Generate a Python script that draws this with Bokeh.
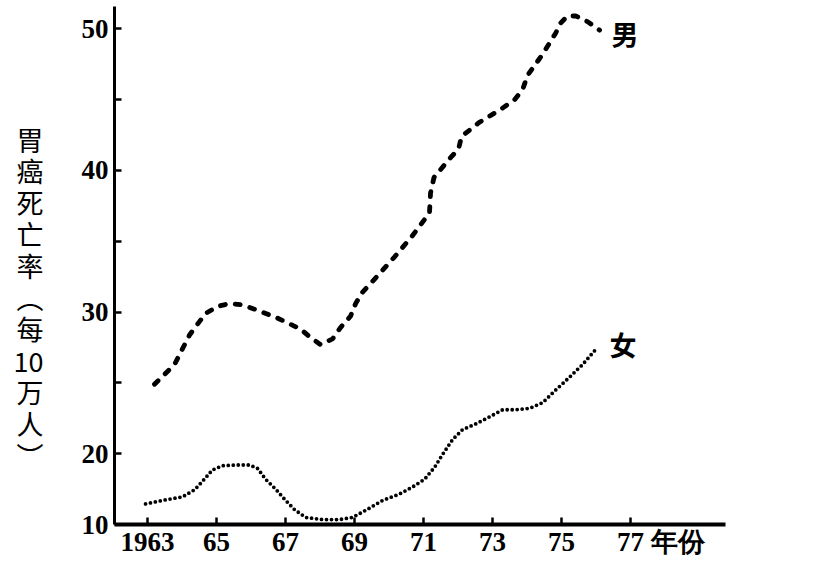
from bokeh.plotting import figure
from bokeh.models import Range1d, FixedTicker, Label
from bokeh.embed import file_html
from bokeh.resources import INLINE

# ---- data ----
male_years = [1963.2, 1963.78, 1964.22, 1964.68, 1965.03, 1965.38, 1965.75, 1966.1, 1966.74,
              1967.43, 1967.72, 1968.01, 1968.36, 1968.59, 1968.88, 1969.03, 1969.23, 1969.72,
              1970.16, 1970.68, 1971.17, 1971.2, 1971.3, 1971.78, 1972.01, 1972.1, 1972.62,
              1973.23, 1973.64, 1973.87, 1974.01, 1974.45, 1974.83, 1974.97, 1975.17, 1975.41,
              1975.75, 1976.1]
male_rate = [24.9, 26.3, 28.4, 29.9, 30.4, 30.6, 30.5, 30.2, 29.6,
             28.8, 28.2, 27.7, 28.1, 28.9, 29.7, 30.6, 31.4, 32.7,
             33.9, 35.4, 37.0, 38.4, 39.5, 40.9, 41.5, 42.4, 43.4,
             44.3, 45.0, 45.7, 46.7, 48.2, 49.7, 50.4, 50.9, 50.9,
             50.5, 49.9]

female_years = [1962.94, 1963.43, 1964.01, 1964.36, 1964.59, 1964.88, 1965.17, 1965.55, 1965.96,
                1966.19, 1966.42, 1966.71, 1967.0, 1967.26, 1967.58, 1968.07, 1968.57, 1968.94,
                1969.32, 1969.81, 1970.3, 1970.68, 1971.03, 1971.32, 1971.55, 1971.84, 1972.13,
                1972.51, 1972.91, 1973.29, 1973.67, 1974.07, 1974.45, 1974.83, 1975.23, 1975.61,
                1976.04]
female_rate = [12.9, 13.4, 13.9, 14.9, 16.1, 17.7, 18.3, 18.4, 18.4,
               17.9, 16.4, 15.0, 13.4, 12.1, 11.0, 10.7, 10.7, 11.0,
               12.0, 13.4, 14.3, 15.3, 16.4, 18.1, 19.9, 21.0, 21.7,
               22.1, 22.6, 23.1, 23.1, 23.2, 23.6, 24.5, 25.4, 26.3,
               27.5]

x_ticks = [1963, 1965, 1967, 1969, 1971, 1973, 1975, 1977]
x_tick_labels = ["1963", "65", "67", "69", "71", "73", "75", "77"]
x_unit = "年份"
y_ticks = [10, 20, 25, 30, 35, 40, 45, 50]
y_tick_labels = ["10", "20", "", "30", "", "40", "", "50"]

y_title = ["胃", "癌", "死", "亡", "率", "︵", "每", "10", "万", "人", "︶"]
male_name = "男"
female_name = "女"


def squash(v):
    """The printed axis is compressed to half scale below 20."""
    return v if v >= 20 else 20 - (20 - v) * 0.5


SERIF = "Liberation Serif"
CJK = "Noto Sans CJK SC"
PAD = "\u3000"  # ideographic space, keeps "77" centred on its tick while "年份" follows it

p = figure(width=818, height=559, output_backend="svg", toolbar_location=None,
           x_range=Range1d(1962.04, 1979.75), y_range=Range1d(squash(10), 51.57),
           min_border_left=114, min_border_right=93, min_border_top=6, min_border_bottom=0)
p.outline_line_color = None
p.xgrid.visible = False
p.ygrid.visible = False
p.background_fill_color = "white"
p.border_fill_color = "white"

p.line(male_years, [squash(v) for v in male_rate], line_color="black",
       line_width=4.8, line_dash="5 10", line_cap="round")
p.line(female_years, [squash(v) for v in female_rate], line_color="black",
       line_width=3.8, line_dash="0 5", line_cap="round")

# axes
labels = list(x_tick_labels)
labels[-1] = PAD + " " + PAD + labels[-1] + " " + x_unit
xa = p.xaxis[0]
xa.ticker = FixedTicker(ticks=x_ticks)
xa.major_label_overrides = {t: l for t, l in zip(x_ticks, labels)}
xa.minor_tick_line_color = None
xa.major_tick_in = 7
xa.major_tick_out = 0
xa.major_tick_line_width = 2.5
xa.major_tick_line_color = "black"
xa.axis_line_width = 4
xa.axis_line_color = "black"
xa.major_label_text_font = SERIF
xa.major_label_text_font_style = "bold"
xa.major_label_text_font_size = "27px"
xa.major_label_text_color = "black"
xa.major_label_standoff = 2
xa.axis_label_standoff = 0

ya = p.yaxis[0]
ya.ticker = FixedTicker(ticks=[squash(t) for t in y_ticks])
ya.major_label_overrides = {squash(t): l for t, l in zip(y_ticks, y_tick_labels)}
ya.minor_tick_line_color = None
ya.major_tick_in = 7
ya.major_tick_out = 0
ya.major_tick_line_width = 2.5
ya.major_tick_line_color = "black"
ya.axis_line_width = 3
ya.axis_line_color = "black"
ya.major_label_text_font = SERIF
ya.major_label_text_font_style = "bold"
ya.major_label_text_font_size = "27px"
ya.major_label_text_color = "black"
ya.major_label_standoff = 6
ya.axis_label = "\n".join([PAD, PAD] + y_title)
ya.axis_label_orientation = "horizontal"
ya.axis_label_text_font = CJK
ya.axis_label_text_font_style = "normal"
ya.axis_label_text_font_size = "27px"
ya.axis_label_text_line_height = 0.81
ya.axis_label_standoff = 35
ya.axis_label_text_color = "black"

# series names
p.add_layout(Label(x=male_years[-1], y=squash(male_rate[-1]), text=male_name, x_offset=12, y_offset=-3,
                   text_font=CJK, text_font_style="bold", text_font_size="27px",
                   text_baseline="middle", text_align="left", text_color="black"))
p.add_layout(Label(x=female_years[-1], y=squash(female_rate[-1]), text=female_name, x_offset=12, y_offset=3,
                   text_font=CJK, text_font_style="bold", text_font_size="27px",
                   text_baseline="middle", text_align="left", text_color="black"))

open("out.html", "w").write(file_html(p, INLINE))
